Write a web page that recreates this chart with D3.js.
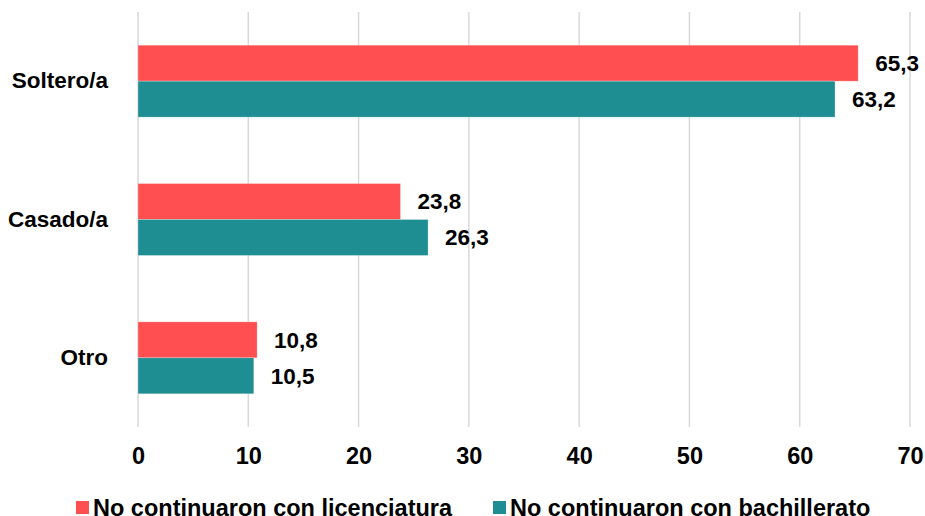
<!DOCTYPE html>
<html>
<head>
<meta charset="utf-8">
<script src="https://cdn.jsdelivr.net/npm/d3@7"></script>
<style>
  body { margin: 0; background: #fff; }
  text { font-family: "Liberation Sans", Arial, sans-serif; font-weight: bold; fill: #000; }
</style>
</head>
<body>
<div id="chart"></div>
<script>
const categories = ["Soltero/a", "Casado/a", "Otro"]
const seriesNames = ["No continuaron con licenciatura", "No continuaron con bachillerato"]
const licenciatura = [65.3, 23.8, 10.8]
const bachillerato = [63.2, 26.3, 10.5]
const ticks = [0, 10, 20, 30, 40, 50, 60, 70]
const colors = ["#FF4F50", "#1F8E92"]

const width = 925
const height = 516
const margin = { top: 12, right: 15, bottom: 89, left: 138 }

const svg = d3.select("#chart").append("svg")
  .attr("width", width)
  .attr("height", height)

const x = d3.scaleLinear().domain([0, 70]).range([margin.left, 910])
const y = d3.scaleBand().domain(categories).range([margin.top, height - margin.bottom])
  .paddingInner(0.48).paddingOuter(0.24)
const ySub = d3.scaleBand().domain([0, 1]).range([0, y.bandwidth()])

// gridlines
svg.append("g")
  .selectAll("line")
  .data(ticks)
  .join("line")
    .attr("x1", d => x(d)).attr("x2", d => x(d))
    .attr("y1", margin.top).attr("y2", height - margin.bottom)
    .attr("stroke", "#d9d9d9")
    .attr("stroke-width", 1.5)

// tick labels
const xAxis = svg.append("g")
  .attr("transform", `translate(0,${height - margin.bottom})`)
  .call(d3.axisBottom(x).tickValues(ticks).tickSize(0).tickPadding(20))
xAxis.select(".domain").remove()
xAxis.selectAll("text")
  .style("font-size", "23.5px")
  .style("font-family", "Liberation Sans, Arial, sans-serif")
  .style("font-weight", "bold")
  .attr("fill", "#000")

// category labels
const yAxis = svg.append("g")
  .attr("transform", `translate(${margin.left},0)`)
  .call(d3.axisLeft(y).tickSize(0).tickPadding(30))
yAxis.select(".domain").remove()
yAxis.selectAll("text")
  .style("font-size", "22.5px")
  .style("font-family", "Liberation Sans, Arial, sans-serif")
  .style("font-weight", "bold")
  .attr("fill", "#000")

const rows = categories.map((c, i) => ({ cat: c, values: [licenciatura[i], bachillerato[i]] }))

const group = svg.append("g")
  .selectAll("g")
  .data(rows)
  .join("g")
    .attr("transform", d => `translate(0,${y(d.cat)})`)

group.selectAll("rect")
  .data(d => d.values.map((v, j) => ({ v, j })))
  .join("rect")
    .attr("x", x(0))
    .attr("y", d => ySub(d.j))
    .attr("width", d => x(d.v) - x(0))
    .attr("height", ySub.bandwidth())
    .attr("fill", d => colors[d.j])
    .attr("stroke", "#fff")
    .attr("stroke-opacity", 0.35)
    .attr("stroke-width", 0.75)

group.selectAll("text.val")
  .data(d => d.values.map((v, j) => ({ v, j })))
  .join("text")
    .attr("class", "val")
    .attr("x", d => x(d.v) + 17)
    .attr("y", d => ySub(d.j) + ySub.bandwidth() / 2)
    .attr("dy", "0.35em")
    .style("font-size", "22.5px")
    .text(d => d3.format(".1f")(d.v).replace(".", ","))

// legend
const legend = svg.append("g").attr("transform", "translate(0,508)")
const legendX = [76, 493]
seriesNames.forEach((name, i) => {
  legend.append("rect")
    .attr("x", legendX[i]).attr("y", -7)
    .attr("width", 13).attr("height", 13)
    .attr("fill", colors[i])
  legend.append("text")
    .attr("x", legendX[i] + 17)
    .attr("y", 0)
    .attr("dy", "0.35em")
    .style("font-size", "23.5px")
    .text(name)
})
</script>
</body>
</html>
